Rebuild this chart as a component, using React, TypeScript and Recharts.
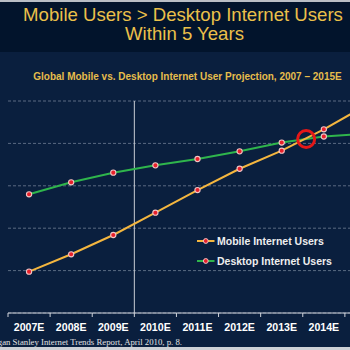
import React from 'react';
import { LineChart, Line, XAxis, YAxis, CartesianGrid, ReferenceLine, ReferenceDot, Legend } from 'recharts';

const categories = ['2007E', '2008E', '2009E', '2010E', '2011E', '2012E', '2013E', '2014E', '2015E'];
const mobileUsers = [390, 554, 736, 946, 1160, 1361, 1531, 1733, 1958];
const desktopUsers = [1120, 1233, 1324, 1393, 1453, 1525, 1608, 1665, 1693];
const yTicks = [0, 400, 800, 1200, 1600, 2000];
const forecastDivider = 2.5;
const crossover = { x: 6.58, y: 1642 };

const data = categories.map((c, i) => ({ idx: i, cat: c, mobile: mobileUsers[i], desktop: desktopUsers[i] }));

const CHART_W = 387;
const CHART_H = 350;
const M_LEFT = 8;
const M_RIGHT = 0;
const BAND = (CHART_W - M_LEFT - M_RIGHT) / categories.length;

const MOBILE_COLOR = '#f4b63f';
const DESKTOP_COLOR = '#2fb54c';
const FONT = '"Liberation Sans", Arial, sans-serif';

const Tick = (props: any) => {
  const { x, y, payload } = props;
  const bx = x - BAND / 2;
  return (
    <g>
      <line x1={bx} y1={y} x2={bx} y2={y + 4} stroke="#cfd3da" strokeWidth={1} />
      <text x={x} y={y + 17.5} textAnchor="middle" fill="#ffffff" fontFamily={FONT} fontWeight="bold" fontSize={10.6}>
        {categories[payload.value]}
      </text>
    </g>
  );
};

const Dot = (props: any) => {
  const { cx, cy, index } = props;
  if (cx == null || cy == null) return <g key={index} />;
  return <circle key={index} cx={cx} cy={cy} r={2.6} fill="#e8202a" stroke="#f2c4c4" strokeWidth={1.1} />;
};

const LegendContent = () => {
  const items = [
    { label: 'Mobile Internet Users', color: MOBILE_COLOR },
    { label: 'Desktop Internet Users', color: DESKTOP_COLOR },
  ];
  return (
    <div>
      {items.map((it) => (
        <div key={it.label} style={{ display: 'flex', alignItems: 'center', height: 20 }}>
          <svg width={20} height={8} style={{ display: 'block' }}>
            <line x1={0} y1={4} x2={17.5} y2={4} stroke={it.color} strokeWidth={2} />
            <circle cx={8.8} cy={4} r={2.4} fill="#e8202a" stroke="#f2c4c4" strokeWidth={1} />
          </svg>
          <span style={{ color: '#eeeeee', fontFamily: FONT, fontWeight: 'bold', fontSize: 10.5, whiteSpace: 'nowrap' }}>{it.label}</span>
        </div>
      ))}
    </div>
  );
};

export default function App() {
  return (
    <div style={{ position: 'absolute', left: 0, top: 0, width: 350, height: 350, overflow: 'hidden', background: '#0a1f3e' }}>
      <div style={{ position: 'absolute', left: 0, top: 0, width: 350, height: 2, background: '#b9bec5' }} />
      <div style={{ position: 'absolute', left: 0, top: 2, width: 350, height: 50, background: '#02142c' }} />
      <div style={{ position: 'absolute', left: 0, top: 5, width: 366, textAlign: 'center', color: '#ebc04a', fontFamily: FONT, fontSize: 18.6, lineHeight: '20px', whiteSpace: 'nowrap' }}>
        Mobile Users &gt; Desktop Internet Users
      </div>
      <div style={{ position: 'absolute', left: 0, top: 24.3, width: 369, textAlign: 'center', color: '#ebc04a', fontFamily: FONT, fontSize: 18.6, lineHeight: '20px', whiteSpace: 'nowrap' }}>
        Within 5 Years
      </div>
      <div style={{ position: 'absolute', left: 0, top: 71.3, width: 375, textAlign: 'center', color: '#e6bd4c', fontFamily: FONT, fontWeight: 'bold', fontSize: 10, lineHeight: '12px', whiteSpace: 'nowrap' }}>
        Global Mobile vs. Desktop Internet User Projection, 2007 – 2015E
      </div>
      <div style={{ position: 'absolute', left: 0, top: 0 }}>
        <LineChart width={CHART_W} height={CHART_H} data={data} margin={{ top: 101, right: M_RIGHT, left: M_LEFT, bottom: 7 }}>
          <CartesianGrid horizontal={true} vertical={false} stroke="#5a6a82" strokeDasharray="3 2" />
          <XAxis
            dataKey="idx"
            type="number"
            domain={[-0.5, categories.length - 0.5]}
            ticks={categories.map((_, i) => i)}
            interval={0}
            height={30}
            tickSize={0}
            tickMargin={0}
            tickLine={false}
            axisLine={{ stroke: '#cfd3da', strokeWidth: 1 }}
            tick={<Tick />}
            allowDataOverflow
          />
          <YAxis hide domain={[0, 2000]} ticks={yTicks} />
          <ReferenceLine x={forecastDivider} stroke="#c9cdd4" strokeWidth={1} />
          <Legend
            content={<LegendContent />}
            layout="vertical"
            align="center"
            verticalAlign="middle"
            wrapperStyle={{ position: 'absolute', left: 197, top: 230.7, width: 160, bottom: 'auto', right: 'auto' }}
          />
          <Line type="linear" dataKey="desktop" name="Desktop Internet Users" stroke={DESKTOP_COLOR} strokeWidth={2} dot={<Dot />} activeDot={false} isAnimationActive={false} />
          <Line type="linear" dataKey="mobile" name="Mobile Internet Users" stroke={MOBILE_COLOR} strokeWidth={2} dot={<Dot />} activeDot={false} isAnimationActive={false} />
          <ReferenceDot x={crossover.x} y={crossover.y} r={8.5} fill="none" stroke="#e41818" strokeWidth={3} />
        </LineChart>
      </div>
      <div style={{ position: 'absolute', right: 168, top: 336, color: '#e2e2e2', fontFamily: '"Liberation Serif", "Times New Roman", serif', fontSize: 8.75, lineHeight: '12px', whiteSpace: 'nowrap' }}>
        Source: Morgan Stanley Internet Trends Report, April 2010, p. 8.
      </div>
      <div style={{ position: 'absolute', left: 0, top: 347, width: 350, height: 3, background: '#cdd1d6' }} />
    </div>
  );
}
